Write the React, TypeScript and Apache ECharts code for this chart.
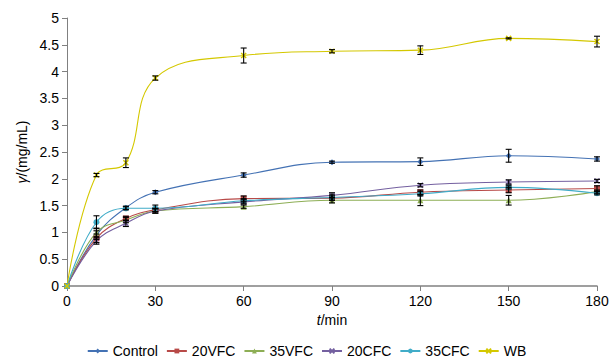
import React, { useEffect, useRef } from "react";
import * as echarts from "echarts";

const times = [0, 10, 20, 30, 60, 90, 120, 150, 180];
const seriesNames = ["Control", "20VFC", "35VFC", "20CFC", "35CFC", "WB"];
const control = [0, 0.95, 1.46, 1.75, 2.07, 2.31, 2.32, 2.43, 2.37];
const vfc20 = [0, 0.89, 1.26, 1.42, 1.63, 1.64, 1.75, 1.79, 1.82];
const vfc35 = [0, 1.0, 1.23, 1.4, 1.48, 1.6, 1.6, 1.6, 1.76];
const cfc20 = [0, 0.84, 1.17, 1.4, 1.57, 1.69, 1.88, 1.94, 1.96];
const cfc35 = [0, 1.19, 1.45, 1.45, 1.59, 1.65, 1.72, 1.84, 1.73];
const wb = [0, 2.07, 2.3, 3.88, 4.3, 4.38, 4.4, 4.62, 4.56];

const controlErr = [0, 0.08, 0.03, 0.03, 0.04, 0.02, 0.07, 0.12, 0.04];
const vfc20Err = [0, 0.08, 0.04, 0.03, 0.05, 0.04, 0.04, 0.05, 0.05];
const vfc35Err = [0, 0.08, 0.05, 0.04, 0.03, 0.05, 0.1, 0.09, 0.03];
const cfc20Err = [0, 0.06, 0.06, 0.04, 0.04, 0.05, 0.03, 0.04, 0.03];
const cfc35Err = [0, 0.12, 0.03, 0.06, 0.04, 0.05, 0.04, 0.03, 0.03];
const wbErr = [0, 0.03, 0.09, 0.04, 0.14, 0.03, 0.08, 0.01, 0.1];

const values = [control, vfc20, vfc35, cfc20, cfc35, wb];
const errors = [controlErr, vfc20Err, vfc35Err, cfc20Err, cfc35Err, wbErr];
const colors = ["#4472B4", "#B84A48", "#8DAE55", "#7460A0", "#40ACC8", "#D4C800"];
const symbols = [
  "diamond",
  "rect",
  "triangle",
  "path://M0,0L1,1M1,0L0,1",
  "circle",
  "path://M0,0L1,1M1,0L0,1",
];
const symbolSizes = [6, 6, 6, 5, 6, 5];

const FONT = "Liberation Sans, Arial, sans-serif";

export default function App() {
  const ref = useRef<HTMLDivElement>(null);
  useEffect(() => {
    if (!ref.current) return;
    const chart = echarts.init(ref.current, null, { renderer: "svg" });

    const lineSeries = seriesNames.map((name, i) => ({
      name,
      type: "line",
      smooth: 0.4,
      data: times.map((t, j) => [t, values[i][j]]),
      symbol: symbols[i],
      symbolSize: symbolSizes[i],
      showSymbol: true,
      lineStyle: { color: colors[i], width: 1.1 },
      itemStyle: { color: colors[i], borderColor: colors[i], borderWidth: i === 3 || i === 5 ? 1.5 : 0 },
      z: 2,
    }));

    const errData: number[][] = [];
    values.forEach((vals, i) => {
      vals.forEach((v, j) => {
        const e = errors[i][j];
        if (e > 0) errData.push([times[j], v - e, v + e]);
      });
    });

    const errSeries = {
      type: "custom",
      name: "err",
      data: errData,
      encode: { x: 0, y: [1, 2] },
      z: 5,
      silent: true,
      renderItem: (params: any, api: any) => {
        const x = api.value(0);
        const lo = api.coord([x, api.value(1)]);
        const hi = api.coord([x, api.value(2)]);
        const w = 3;
        const style = { stroke: "#000", lineWidth: 1.1 };
        return {
          type: "group",
          children: [
            { type: "line", shape: { x1: lo[0], y1: lo[1], x2: hi[0], y2: hi[1] }, style },
            { type: "line", shape: { x1: lo[0] - w, y1: lo[1], x2: lo[0] + w, y2: lo[1] }, style },
            { type: "line", shape: { x1: hi[0] - w, y1: hi[1], x2: hi[0] + w, y2: hi[1] }, style },
          ],
        };
      },
    };

    chart.setOption({
      animation: false,
      backgroundColor: "#fff",
      textStyle: { fontFamily: FONT },
      grid: { left: 67, right: 16, top: 18, bottom: 77, containLabel: false },
      legend: {
        data: seriesNames,
        bottom: 0,
        left: "center",
        itemWidth: 20,
        itemHeight: 6,
        itemGap: 8,
        textStyle: { fontSize: 14, color: "#000", fontFamily: FONT },
      },
      xAxis: {
        type: "value",
        min: 0,
        max: 180,
        interval: 30,
        name: "{i|t}{n|/min}",
        nameLocation: "middle",
        nameGap: 24,
        nameTextStyle: {
          rich: {
            i: { fontStyle: "italic", fontSize: 14, color: "#000", fontFamily: FONT },
            n: { fontSize: 14, color: "#000", fontFamily: FONT },
          },
        },
        axisLine: { lineStyle: { color: "#808080", width: 1.5 } },
        axisTick: { show: true, length: 5, lineStyle: { color: "#808080" } },
        axisLabel: { fontSize: 14, color: "#000", margin: 8, fontFamily: FONT },
        splitLine: { show: false },
      },
      yAxis: {
        type: "value",
        min: 0,
        max: 5,
        interval: 0.5,
        name: "{i|γ}{n|/(mg/mL)}",
        nameLocation: "middle",
        nameGap: 38,
        nameRotate: 90,
        nameTextStyle: {
          rich: {
            i: { fontStyle: "italic", fontSize: 14, color: "#000", fontFamily: FONT },
            n: { fontSize: 14, color: "#000", fontFamily: FONT },
          },
        },
        axisLine: { show: true, lineStyle: { color: "#808080", width: 1 } },
        axisTick: { show: true, length: 5, lineStyle: { color: "#808080" } },
        axisLabel: { fontSize: 14, color: "#000", margin: 8, fontFamily: FONT },
        splitLine: { show: false },
      },
      series: [...lineSeries, errSeries],
    });
    return () => chart.dispose();
  }, []);
  return <div ref={ref} style={{ width: 613, height: 363, position: "absolute", left: 0, top: 0 }} />;
}
